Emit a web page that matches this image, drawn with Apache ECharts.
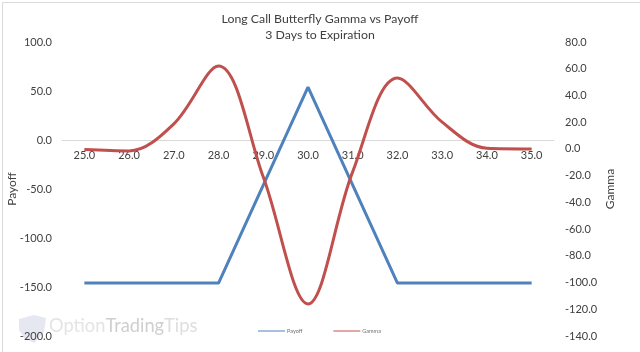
<!DOCTYPE html>
<html><head><meta charset="utf-8">
<style>html,body{margin:0;padding:0;background:#fff}#c{width:640px;height:352px}</style>
<script src="https://cdn.jsdelivr.net/npm/echarts@6/dist/echarts.min.js"></script>
</head><body><div id="c"></div>
<script>
const strikes = ['25.0','26.0','27.0','28.0','29.0','30.0','31.0','32.0','33.0','34.0','35.0'];
const payoff = [-146,-146,-146,-146,-46,54,-46,-146,-146,-146,-146];
const gamma = [-0.5,-1.5,18.7,62,-21,-116,-17,53,20,0.5,0];
const titleLines = 'Long Call Butterfly Gamma vs Payoff\n3 Days to Expiration';
const font = 'Lato';
const txt = '#404040';
const blue = '#4f81bd', red = '#c0504d';
const chart = echarts.init(document.getElementById('c'), null, {renderer:'canvas'});
const fmt = v => v.toFixed(1);
chart.setOption({
  animation:false,
  backgroundColor:'#fff',
  title:{text:titleLines,left:'center',top:6,textStyle:{fontFamily:font,fontSize:12.3,fontWeight:'normal',color:txt,lineHeight:16}},
  legend:{data:[{name:'Payoff',itemStyle:{color:blue}},{name:'Gamma',itemStyle:{color:red}}],left:258,top:328,padding:0,itemWidth:27,itemHeight:1,itemGap:31,icon:'rect',
    textStyle:{fontFamily:font,fontSize:5.5,color:'#707070',padding:[0,0,0,-3]}},
  grid:{left:62,right:86,top:42,bottom:16,outerBoundsMode:'none'},
  xAxis:{type:'category',data:strikes,boundaryGap:true,position:'bottom',offset:-196,
    axisLine:{onZero:false,lineStyle:{color:'#d9d9d9',width:1}},axisTick:{show:false},
    axisLabel:{fontFamily:font,fontSize:11,color:txt,margin:10,interval:0},splitLine:{show:false}},
  yAxis:[
    {type:'value',min:-200,max:100,interval:50,name:'Payoff',nameLocation:'middle',nameGap:44,nameRotate:90,nameMoveOverlap:false,
     nameTextStyle:{fontFamily:font,fontSize:12,color:txt},
     axisLine:{show:false},axisTick:{show:false},splitLine:{show:false},
     axisLabel:{formatter:fmt,fontFamily:font,fontSize:11,color:txt,margin:10}},
    {type:'value',min:-140,max:80,interval:20,name:'Gamma',nameLocation:'middle',nameGap:50,nameRotate:90,nameMoveOverlap:false,
     nameTextStyle:{fontFamily:font,fontSize:12,color:txt},
     axisLine:{show:false},axisTick:{show:false},splitLine:{show:false},
     axisLabel:{formatter:fmt,fontFamily:font,fontSize:11,color:txt,margin:11}}
  ],
  series:[
    {name:'Payoff',type:'line',data:payoff,yAxisIndex:0,symbol:'none',smooth:false,
     lineStyle:{color:blue,width:3},itemStyle:{color:blue}},
    {name:'Gamma',type:'line',data:gamma,yAxisIndex:1,symbol:'none',smooth:0.35,
     lineStyle:{color:red,width:3},itemStyle:{color:red}}
  ],
  graphic:[
    {type:'rect',left:0,top:0,shape:{width:639,height:351},style:{fill:'none',stroke:'#d9d9d9',lineWidth:1},silent:true,x:0.5,y:0.5},
    {type:'polygon',shape:{points:[[19,319],[34,315],[46,318],[44,332],[34,343],[24,338],[19,330]]},
     style:{fill:'#dfe1ee',opacity:0.8},silent:true},
    {type:'text',left:49,top:317,style:{text:'{a|Option}{b|Trading}{c|Tips}',
      rich:{a:{fontFamily:font,fontSize:18.3,fill:'#e4e4e4',color:'#e4e4e4'},b:{fontFamily:font,fontSize:18.3,fill:'#cfcfcf',color:'#cfcfcf'},c:{fontFamily:font,fontSize:18.3,fill:'#dedede',color:'#dedede'}}},silent:true}
  ]
});
</script></body></html>
